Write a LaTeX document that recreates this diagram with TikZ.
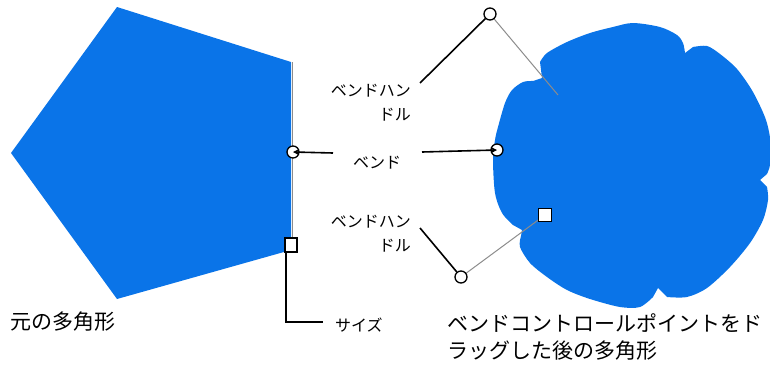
\documentclass[tikz,border=0pt]{standalone}
\usepackage{fontspec}
\setmainfont{Noto Sans CJK JP}
\usetikzlibrary{arrows.meta}
\definecolor{shapeblue}{RGB}{10,116,232}
\definecolor{handlegrey}{RGB}{140,140,140}
\tikzset{
  big/.style={font=\fontsize{21}{28}\selectfont, inner sep=0pt},
  small/.style={font=\fontsize{16}{23}\selectfont, inner sep=0pt},
  ptr/.style={line width=1.6pt, black},
  guide/.style={line width=1pt, handlegrey},
  bendhandle/.style={circle, draw=black, fill=white, line width=1.3pt, minimum size=12pt, inner sep=0pt},
  sizehandle/.style={draw=black, fill=white, line width=1.6pt, minimum size=13pt, inner sep=0pt},
}
\begin{document}
\begin{tikzpicture}[x=1pt,y=-1pt]
\useasboundingbox (0,0) rectangle (770,367);
% original pentagon
\fill[shapeblue] (117,7) -- (291,62) -- (291,250) -- (117,299) -- (11,153) -- cycle;
% bent polygon
\fill[shapeblue] (542,78)
  -- plot[smooth] coordinates {(540,62) (547,53) (567,42) (590,33) (613,27) (633,23) (660,27) (677,35) (683,43) (685,53)}
  -- plot[smooth] coordinates {(693,47) (707,46) (720,54) (737,69) (753,92) (766,120) (771,145) (770,165) (767,174)}
  -- (760,180)
  -- plot[smooth] coordinates {(767,187) (768,200) (763,220) (750,243) (730,267) (707,288) (687,297) (667,297)}
  -- (658,288)
  -- plot[smooth] coordinates {(653,297) (640,307) (620,307) (590,299) (567,290) (547,277) (530,263) (520,247) (521,236)}
  -- (522,230)
  -- plot[smooth] coordinates {(513,225) (502,213) (495,193) (493,160) (495,140) (498,127) (505,103) (512,90) (523,82) (533,81)}
  -- cycle;
% handles positions
\coordinate (edgetop) at (292,62);
\coordinate (guideend) at (558,95);
\draw[guide] (edgetop) -- (292,245);
\draw[guide] (490,14) -- (guideend);
\draw[guide] (461,277) -- (545,215);
\node[bendhandle] (pb) at (293,152) {};
\node[sizehandle, minimum width=12pt, minimum height=14pt] (ps) at (291,245) {};
\node[bendhandle] (fb) at (497,150) {};
\node[bendhandle] (uh) at (490,14) {};
\node[bendhandle] (lh) at (461,277) {};
\node[sizehandle] (fs) at (545,215) {};
% labels
\node[big, anchor=west] (orig) at (10,322) {元の多角形};
\node[small, anchor=west] (size) at (335,325) {サイズ};
\node[small] (bend) at (377,163) {ベンド};
\node[small, anchor=east] (ul1) at (411,91) {ベンドハン};
\node[small, anchor=east] (ul2) at (411,115) {ドル};
\node[small, anchor=east] (ll1) at (411,222) {ベンドハン};
\node[small, anchor=east] (ll2) at (411,246) {ドル};
\node[big, anchor=west] (after1) at (447,323) {ベンドコントロールポイントをド};
\node[big, anchor=west] (after2) at (447,351) {ラッグした後の多角形};
% connectors
\coordinate (ulstart) at (420,83);
\coordinate (llstart) at (420,228);
\coordinate (bendl) at (333,153);
\coordinate (bendr) at (422,152);
\coordinate (sizeend) at (323,322);
\draw[ptr] (ulstart) -- (uh);
\draw[ptr] (llstart) -- (lh);
\draw[ptr, -{Stealth[length=6pt,width=6pt]}] (bendl) -- (pb.center);
\draw[ptr, -{Stealth[length=6pt,width=6pt]}] (bendr) -- (fb.center);
\draw[ptr] ([xshift=-5pt]ps.south) |- (sizeend);
\end{tikzpicture}
\end{document}
